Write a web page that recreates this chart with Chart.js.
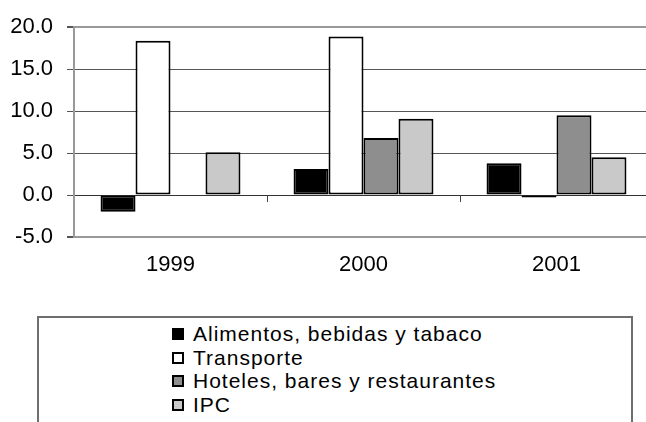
<!DOCTYPE html>
<html lang="es">
<head>
<meta charset="UTF-8">
<title>Variación de precios</title>
<script src="https://cdn.jsdelivr.net/npm/chart.js"></script>
<style>
    html, body {
        margin: 0;
        padding: 0;
        width: 646px;
        height: 422px;
        overflow: hidden;
        background: #fff;
        position: relative;
    }
    .grafica {
        position: absolute;
        left: 0;
        top: 0;
        width: 660px;
        height: 300px;
    }
    .leyenda {
        position: absolute;
        left: 37px;
        top: 316px;
        width: 596px;
        height: 140px;
        border: 2px solid #6e6e6e;
        box-sizing: border-box;
        font-family: "Liberation Sans", Arial, sans-serif;
        font-size: 21px;
        letter-spacing: 1px;
        color: #000;
    }
    .leyenda ul {
        list-style: none;
        margin: 0;
        padding: 4px 0 0 133px;
    }
    .leyenda li {
        height: 23.7px;
        line-height: 23.7px;
        display: flex;
        align-items: center;
    }
    .leyenda span.caja {
        display: inline-block;
        width: 12px;
        height: 12px;
        border: 2px solid #000;
        box-sizing: border-box;
        margin-right: 9px;
    }
</style>
</head>
<body>
<div class="grafica">
    <canvas id="miGrafica" width="660" height="300"></canvas>
</div>
<div class="leyenda"><ul id="listaLeyenda"></ul></div>

<script>
    // datos
    const anios = ['1999', '2000', '2001'];
    const series = ['Alimentos, bebidas y tabaco', 'Transporte', 'Hoteles, bares y restaurantes', 'IPC'];
    const alimentos = [-2.0, 3.1, 3.8];
    const transporte = [18.4, 18.9, -0.3];
    const hoteles = [null, 6.8, 9.5];
    const ipc = [5.1, 9.1, 4.5];
    const ticksY = [-5, 0, 5, 10, 15, 20];

    const colores = ['#000000', '#ffffff', '#8e8e8e', '#c9c9c9'];
    const valores = [alimentos, transporte, hoteles, ipc];

    // marcas pequeñas bajo la linea del cero, entre categorias
    const marcasCero = {
        id: 'marcasCero',
        afterDatasetsDraw(chart) {
            const ctx = chart.ctx;
            const x = chart.scales.x;
            const y0 = chart.scales.y.getPixelForValue(0);
            const paso = x.getPixelForValue(1) - x.getPixelForValue(0);
            ctx.save();
            ctx.strokeStyle = '#444';
            ctx.lineWidth = 1;
            for (let i = 1; i < anios.length; i++) {
                const px = Math.round(x.getPixelForValue(i) - paso / 2) + 0.5;
                ctx.beginPath();
                ctx.moveTo(px, y0);
                ctx.lineTo(px, y0 + 7);
                ctx.stroke();
            }
            ctx.restore();
        }
    };

    const ctx = document.getElementById('miGrafica').getContext('2d');
    const chart = new Chart(ctx, {
        type: 'bar',
        data: {
            labels: anios,
            datasets: series.map((nombre, i) => ({
                label: nombre,
                data: valores[i],
                backgroundColor: colores[i],
                borderColor: '#000',
                borderWidth: 2,
                borderSkipped: false,
                categoryPercentage: 0.725,
                barPercentage: 1.0
            }))
        },
        options: {
            responsive: false,
            animation: false,
            layout: { padding: { top: 26, right: 7, left: 0, bottom: 0 } },
            plugins: {
                legend: { display: false },
                tooltip: { enabled: false }
            },
            scales: {
                x: {
                    grid: { display: false },
                    border: { display: true, color: '#999', width: 2 },
                    ticks: {
                        color: '#000',
                        padding: 7,
                        font: { family: 'Liberation Sans', size: 22 }
                    },
                    afterFit: (scale) => { scale.height = 63; }
                },
                y: {
                    min: -5,
                    max: 20,
                    afterBuildTicks: (scale) => { scale.ticks = ticksY.map(v => ({ value: v })); },
                    grid: {
                        color: (c) => {
                            const v = c.tick.value;
                            if (v === 20 || v === -5) return '#999';
                            if (v === 0) return '#333';
                            return '#555';
                        },
                        lineWidth: (c) => (c.tick.value === 20 || c.tick.value === -5) ? 2 : 1,
                        tickColor: '#555',
                        tickLength: 7
                    },
                    border: { display: true, color: '#999', width: 2 },
                    ticks: {
                        color: '#000',
                        padding: 14,
                        font: { family: 'Liberation Sans', size: 22 },
                        callback: (v) => Number(v).toFixed(1)
                    },
                    afterFit: (scale) => { scale.width = 74; }
                }
            }
        },
        plugins: [marcasCero]
    });

    // leyenda en html
    const lista = document.getElementById('listaLeyenda');
    series.forEach((nombre, i) => {
        const li = document.createElement('li');
        const caja = document.createElement('span');
        caja.className = 'caja';
        caja.style.background = colores[i];
        li.appendChild(caja);
        li.appendChild(document.createTextNode(nombre));
        lista.appendChild(li);
    });
</script>
</body>
</html>
